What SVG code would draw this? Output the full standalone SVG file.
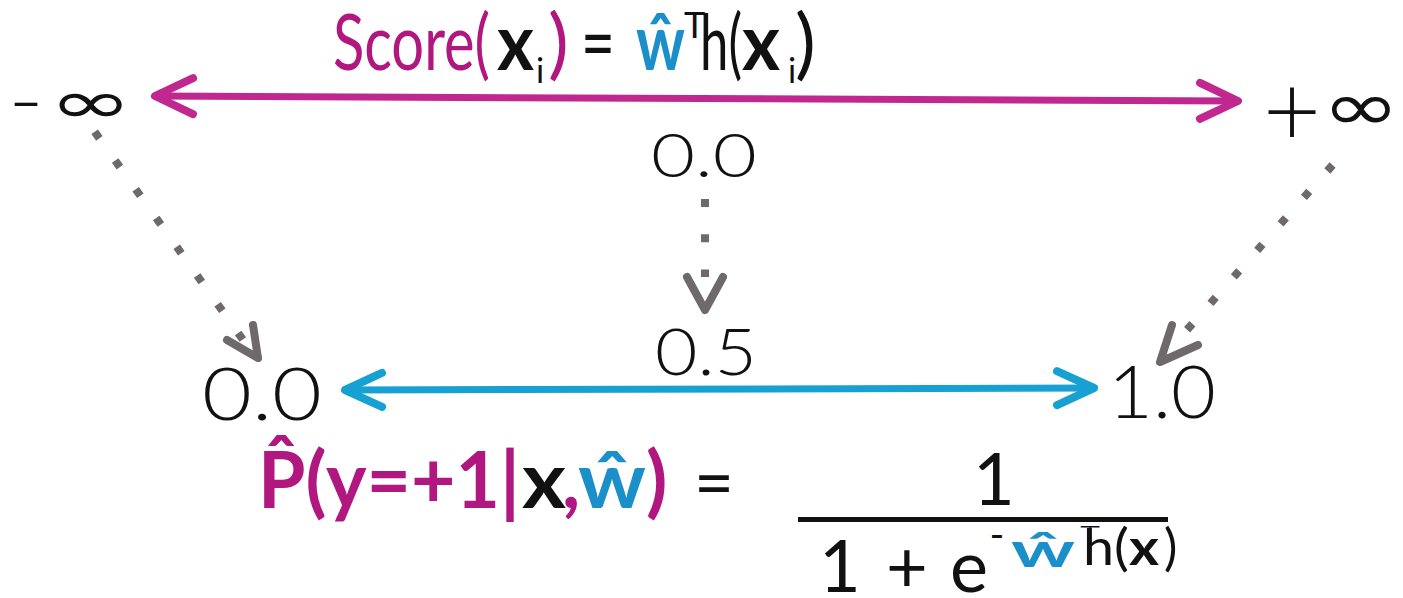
<svg xmlns="http://www.w3.org/2000/svg" width="1403" height="598" viewBox="0 0 1403 598">
<style>
.lt{font-family:Lato,"Open Sans","Liberation Sans",sans-serif;font-weight:300;fill:#111}
.rg{font-family:Lato,"Open Sans","Liberation Sans",sans-serif;font-weight:400;fill:#111}
.bd{font-family:Lato,"Open Sans","Liberation Sans",sans-serif;font-weight:700}
.inf{font-family:"DejaVu Sans",sans-serif;fill:#111}
.mag{fill:#B0177F}
.blu{fill:#1B8FC9}
.blk{fill:#111}
.dots{fill:none;stroke:#6E696B;stroke-width:8;stroke-dasharray:8 27.3;stroke-linecap:butt}
.ghead{fill:none;stroke:#6E696B;stroke-width:8;stroke-linecap:round;stroke-linejoin:round}
</style>
<defs>
<marker id="mMag" markerUnits="userSpaceOnUse" viewBox="-50 -30 60 60" markerWidth="60" markerHeight="60" refX="0" refY="0" orient="auto-start-reverse">
<path d="M-38,-18 L0,0 L-38,18" fill="none" stroke="#C0288F" stroke-width="8" stroke-linecap="round" stroke-linejoin="round"/>
</marker>
<marker id="mBlu" markerUnits="userSpaceOnUse" viewBox="-50 -30 60 60" markerWidth="60" markerHeight="60" refX="0" refY="0" orient="auto-start-reverse">
<path d="M-37,-17 L0,0 L-37,17" fill="none" stroke="#17A0D2" stroke-width="8" stroke-linecap="round" stroke-linejoin="round"/>
</marker>
</defs>
<rect width="1403" height="598" fill="#fff"/>

<g id="connectors">
<path d="M155,96 L1238,101" fill="none" stroke="#C0288F" stroke-width="7" marker-start="url(#mMag)" marker-end="url(#mMag)"/>
<path d="M345,390 L1094,388" fill="none" stroke="#17A0D2" stroke-width="7" marker-start="url(#mBlu)" marker-end="url(#mBlu)"/>
<path class="dots" d="M94.7,131.8 L246,344"/>
<path class="ghead" d="M253,325 L258,358 L227,340"/>
<path class="dots" d="M705,199 L705,277"/>
<path class="ghead" d="M687,277 L705,310 L723,277"/>
<path class="dots" d="M1332.6,165 L1186,331"/>
<path class="ghead" d="M1172,325 L1160,362 L1198,345"/>
</g>

<g id="score">
<text class="rg mag" x="333" y="70" font-size="78" textLength="157" lengthAdjust="spacingAndGlyphs">Score(</text>
<text class="bd blk" x="497" y="70" font-size="78" textLength="37" lengthAdjust="spacingAndGlyphs">x</text>
<text class="rg" x="536" y="83" font-size="34">i</text>
<text class="rg mag" x="548" y="70" font-size="78">)</text>
<text class="rg" x="581" y="70" font-size="78" textLength="34" lengthAdjust="spacingAndGlyphs">=</text>
<text class="bd blu" x="636" y="70" font-size="78" textLength="49" lengthAdjust="spacingAndGlyphs">ŵ</text>
<text class="rg" x="684" y="38" font-size="36">T</text>
<text class="rg" x="700" y="70" font-size="78" textLength="42" lengthAdjust="spacingAndGlyphs">h(</text>
<text class="bd blk" x="742" y="70" font-size="78" textLength="38" lengthAdjust="spacingAndGlyphs">x</text>
<text class="rg" x="788" y="83" font-size="34">i</text>
<text class="rg" x="795" y="70" font-size="78">)</text>
</g>

<g id="neg-inf">
<text class="lt" x="26" y="128" font-size="80" text-anchor="middle" textLength="36" lengthAdjust="spacingAndGlyphs">-</text>
<text class="inf" x="91" y="123" font-size="60" text-anchor="middle" textLength="84" lengthAdjust="spacingAndGlyphs">∞</text>
</g>

<g id="pos-inf">
<text class="lt" x="1292" y="146" font-size="100" text-anchor="middle">+</text>
<text class="inf" x="1361" y="130" font-size="68" text-anchor="middle" textLength="78" lengthAdjust="spacingAndGlyphs">∞</text>
</g>

<g id="zero-score">
<text class="lt" x="704" y="177" font-size="62" text-anchor="middle" textLength="106" lengthAdjust="spacingAndGlyphs">0.0</text>
</g>

<g id="half">
<text class="lt" x="706" y="375" font-size="65" text-anchor="middle" textLength="102" lengthAdjust="spacingAndGlyphs">0.5</text>
</g>

<g id="zero-prob">
<text class="lt" x="262" y="420" font-size="73" text-anchor="middle" textLength="120" lengthAdjust="spacingAndGlyphs">0.0</text>
</g>

<g id="one-prob">
<text class="lt" x="1162" y="418" font-size="73" text-anchor="middle" textLength="108" lengthAdjust="spacingAndGlyphs">1.0</text>
</g>

<g id="prob-formula">
<text class="bd mag" x="258" y="508" font-size="78" textLength="262" lengthAdjust="spacingAndGlyphs">P̂(y=+1|</text>
<text class="bd blk" x="522" y="508" font-size="78" textLength="44" lengthAdjust="spacingAndGlyphs">x</text>
<text class="bd mag" x="562" y="508" font-size="78">,</text>
<text class="bd blu" x="578" y="508" font-size="78" textLength="68" lengthAdjust="spacingAndGlyphs">ŵ</text>
<text class="bd mag" x="646" y="508" font-size="78">)</text>
<text class="rg" x="714" y="508" font-size="72" text-anchor="middle" textLength="40" lengthAdjust="spacingAndGlyphs">=</text>
<text class="rg" x="994" y="505" font-size="72" text-anchor="middle">1</text>
<rect x="798" y="517" width="370" height="5" fill="#111"/>
<text class="rg" x="840" y="592" font-size="72" text-anchor="middle">1</text>
<text class="rg" x="907" y="592" font-size="72" text-anchor="middle">+</text>
<text class="rg" x="969" y="592" font-size="72" text-anchor="middle">e</text>
<text class="rg" x="997" y="549" font-size="40" text-anchor="middle">-</text>
<text class="bd blu" x="1011" y="567" font-size="48" textLength="64" lengthAdjust="spacingAndGlyphs">ŵ</text>
<text class="lt" x="1090" y="550" font-size="34" text-anchor="middle">T</text>
<text class="rg" x="1083" y="565" font-size="50" textLength="46" lengthAdjust="spacingAndGlyphs">h(</text>
<text class="bd blk" x="1129" y="565" font-size="50" textLength="30" lengthAdjust="spacingAndGlyphs">x</text>
<text class="rg" x="1164" y="565" font-size="50">)</text>
</g>
</svg>
